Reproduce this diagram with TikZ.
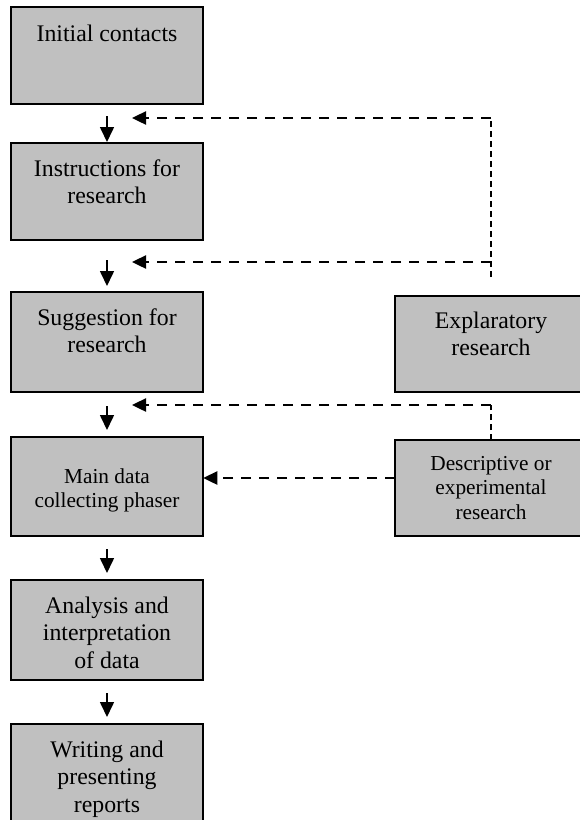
\documentclass[tikz,border=0pt]{standalone}
\usepackage{fontspec}
\setmainfont{Liberation Serif}
\usetikzlibrary{arrows.meta}
\definecolor{boxgray}{HTML}{C0C0C0}
\newcommand\bigtext[3]{\parbox[t][#1][t]{188pt}{\centering\fontsize{23.8pt}{27.5pt}\selectfont\rule{0pt}{#2}#3\par}}
\newcommand\smalltext[3]{\parbox[t][#1][t]{188pt}{\centering\fontsize{21.3pt}{24.7pt}\selectfont\rule{0pt}{#2}#3\par}}
\tikzset{
  stagebox/.style={draw=black, line width=1.8pt, fill=boxgray, inner sep=0pt, outer sep=0pt, anchor=north, minimum width=192.5pt},
  flowarrow/.style={line width=1.6pt, -{Triangle[length=15pt,width=14pt]}},
  hdash/.style={line width=2.4pt, dash pattern=on 10pt off 8pt},
  vdash/.style={line width=1.4pt, dash pattern=on 6pt off 4pt},
  dasharrow/.style={hdash, -{Triangle[length=14pt,width=13pt]}}
}
\begin{document}
\begin{tikzpicture}[x=1pt,y=-1pt]
\useasboundingbox (0,0) rectangle (579,820);
% left column
\node[stagebox] (A) at (107,7) {\bigtext{97pt}{34pt}{Initial contacts}};
\node[stagebox] (B) at (107,143) {\bigtext{97pt}{33pt}{Instructions for\\research}};
\node[stagebox] (C) at (107,292) {\bigtext{100pt}{33pt}{Suggestion for\\research}};
\node[stagebox] (D) at (107,437) {\smalltext{99pt}{46pt}{Main data\\collecting phaser}};
\node[stagebox] (E) at (107,580) {\bigtext{100pt}{33pt}{Analysis and\\interpretation\\of data}};
\node[stagebox] (F) at (107,724) {\bigtext{100pt}{33pt}{Writing and\\presenting\\reports}};
% right column
\node[stagebox, minimum width=192pt] (G) at (491,296) {\bigtext{96pt}{32pt}{Explaratory\\research}};
\node[stagebox, minimum width=192pt] (H) at (491,440) {\smalltext{96pt}{30pt}{Descriptive or\\experimental\\research}};
% solid flow arrows
\draw[flowarrow] ([yshift=-12pt]A.south) -- ([yshift=1pt]B.north);
\draw[flowarrow] ([yshift=-20pt]B.south) -- ([yshift=6pt]C.north);
\draw[flowarrow] ([yshift=-14pt]C.south) -- ([yshift=7pt]D.north);
\draw[flowarrow] ([yshift=-13pt]D.south) -- ([yshift=7pt]E.north);
\draw[flowarrow] ([yshift=-13pt]E.south) -- ([yshift=7pt]F.north);
% feedback coordinates
\coordinate (g1) at (491,118);
\coordinate (g2) at (491,262);
\coordinate (g3) at ([yshift=19pt]G.north);
\coordinate (t1) at (132,118);
\coordinate (t2) at (132,262);
\coordinate (h1) at (491,405);
\coordinate (t3) at (132,405);
% dashed feedback lines
\draw[vdash] (g3) -- (g1);
\draw[dasharrow] (g1) -- (t1);
\draw[dasharrow] (g2) -- (t2);
\draw[vdash] (H.north) -- (h1);
\draw[dasharrow] (h1) -- (t3);
\draw[dasharrow] ([yshift=10pt]H.west) -- ([yshift=8.5pt]D.east);
\end{tikzpicture}
\end{document}
